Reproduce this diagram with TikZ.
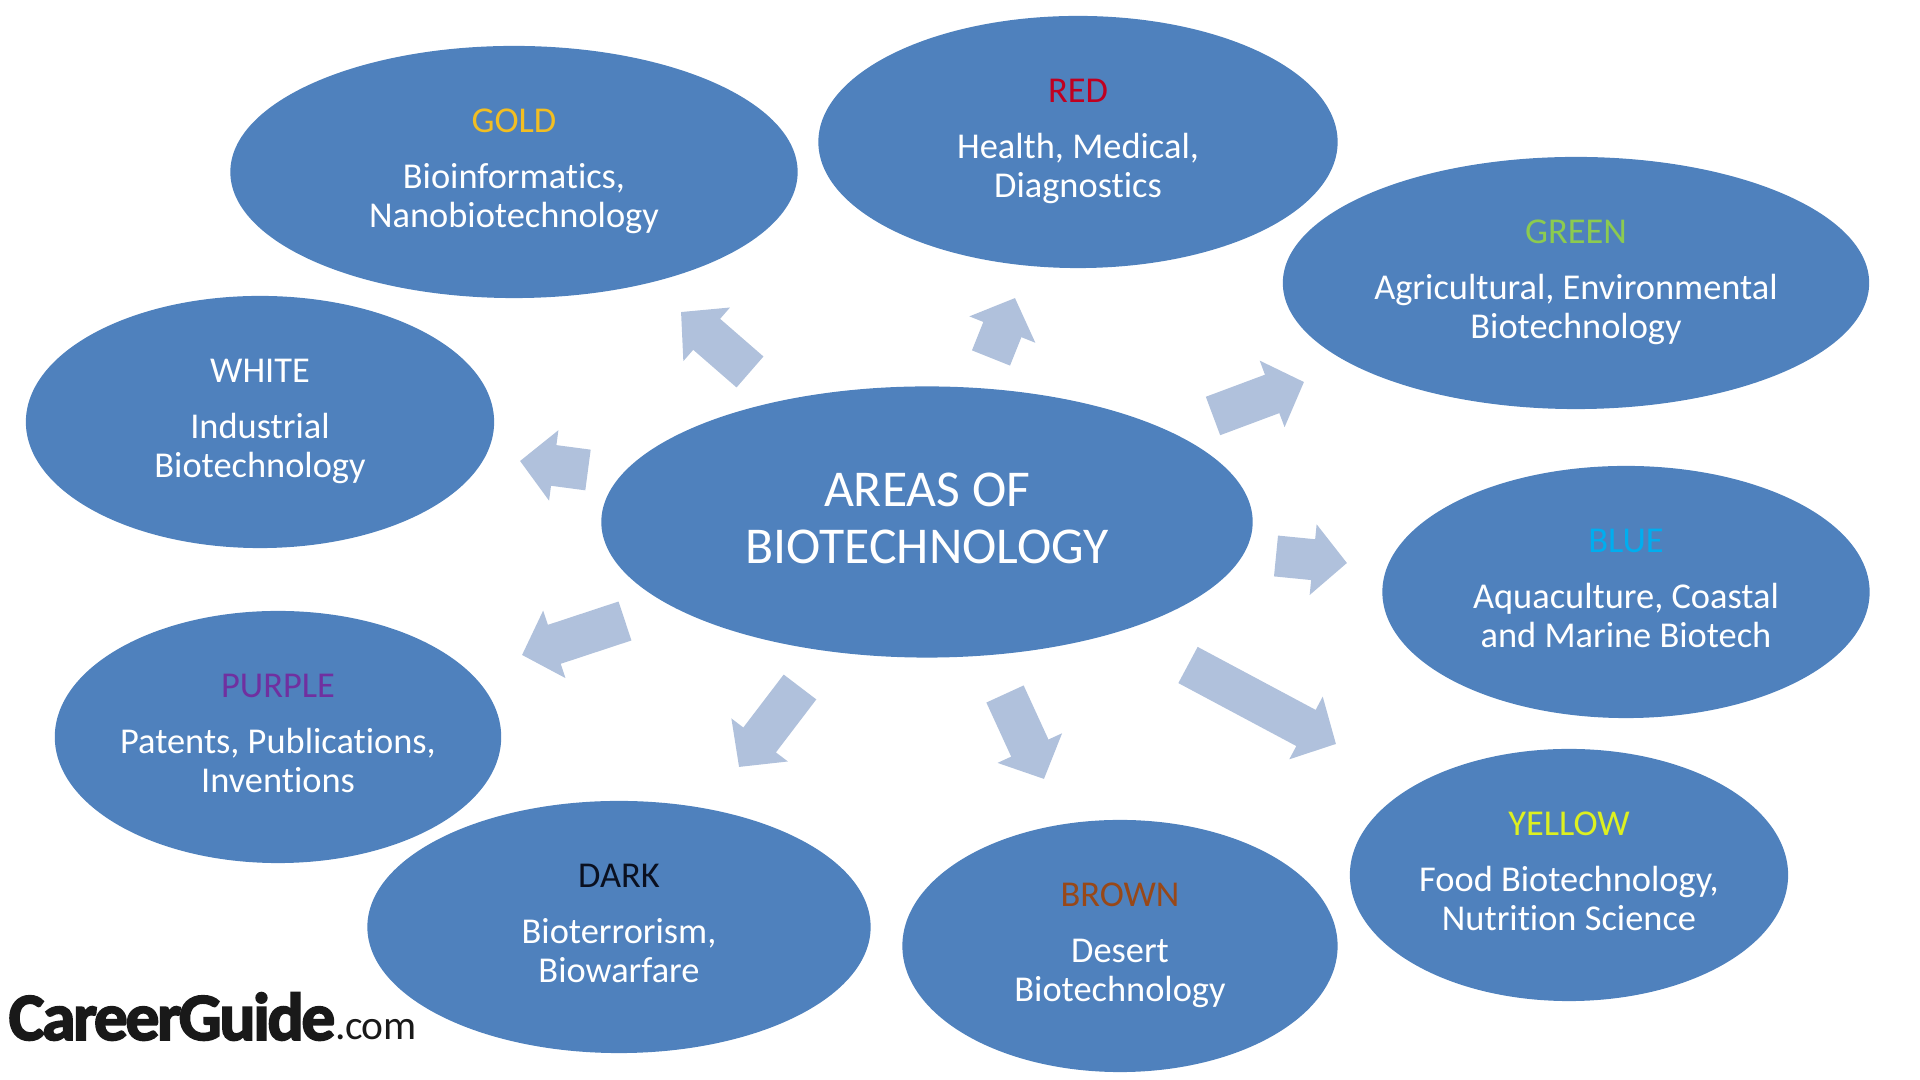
\documentclass[tikz,border=0pt]{standalone}
\usepackage{fontspec}
\setmainfont{Carlito}[Ligatures=NoCommon]
\newfontfamily\logofont[LetterSpace=-3.5,FakeBold=2.6]{Carlito Bold}
\newfontfamily\dotcomfont[LetterSpace=-1.5]{Carlito}
\usetikzlibrary{arrows.meta, shapes.geometric}
\definecolor{mBlob}{HTML}{4F81BD}
\definecolor{mArrow}{HTML}{B0C1DC}
\definecolor{mGold}{HTML}{F2BE22}
\definecolor{mRed}{HTML}{C00020}
\definecolor{mGreen}{HTML}{8CCB50}
\definecolor{mBlue}{HTML}{00AEEF}
\definecolor{mPurple}{HTML}{7030A0}
\definecolor{mDark}{HTML}{0A1020}
\definecolor{mBrown}{HTML}{984818}
\definecolor{mYellow}{HTML}{DDF020}
\newcommand{\arealabel}[3]{\textcolor{#1}{\strut #2}\\[1.8mm]#3\strut}

\begin{document}
\begin{tikzpicture}[x=0.01cm, y=-0.01cm,
    areablob/.style={ellipse, fill=mBlob, inner sep=0pt, minimum height=2.52cm, text=white, align=center, font=\fontsize{10.35}{11}\selectfont},
    flowarrow/.style={draw=mArrow, line width=0.41cm, -{Triangle[length=0.34cm, width=0.69cm]}}]
    \useasboundingbox (0,0) rectangle (1920,1080);
    % centre
    \node[areablob, minimum width=6.51cm, minimum height=2.71cm, font=\fontsize{14.7}{16.3}\selectfont] (centre) at (927,522) {AREAS OF\\BIOTECHNOLOGY\rule[-0.8mm]{0pt}{1mm}};
    % the nine areas
    \node[areablob, minimum width=5.67cm] (gold) at (514,172) {\arealabel{mGold}{GOLD}{Bioinformatics,\\Nanobiotechnology}};
    \node[areablob, minimum width=5.19cm] (red) at (1078,142) {\arealabel{mRed}{RED}{Health, Medical,\\Diagnostics}};
    \node[areablob, minimum width=5.86cm] (green) at (1576,283) {\arealabel{mGreen}{GREEN}{Agricultural, Environmental\\Biotechnology}};
    \node[areablob, minimum width=4.68cm] (white) at (260,422) {\arealabel{white}{WHITE}{Industrial\\Biotechnology}};
    \node[areablob, minimum width=4.87cm] (blue) at (1626,592) {\arealabel{mBlue}{BLUE}{Aquaculture, Coastal\\and Marine Biotech}};
    \node[areablob, minimum width=4.46cm] (purple) at (278,737) {\arealabel{mPurple}{PURPLE}{Patents, Publications,\\Inventions}};
    \node[areablob, minimum width=5.03cm] (dark) at (619,927) {\arealabel{mDark}{DARK}{Bioterrorism,\\Biowarfare}};
    \node[areablob, minimum width=4.35cm] (brown) at (1120,946) {\arealabel{mBrown}{BROWN}{Desert\\Biotechnology}};
    \node[areablob, minimum width=4.38cm] (yellow) at (1569,875) {\arealabel{mYellow}{YELLOW}{Food Biotechnology,\\Nutrition Science}};
    % arrows out of the centre
    \foreach \area/\ax/\ay/\bx/\by in {gold/750/372/681/312, red/991/358/1015/298, green/1213/416/1304/382, blue/1276/556/1347/563, yellow/1188/665/1336/744, brown/1005/694/1044/779, dark/800/687/739/767, purple/625/621/522/655, white/588/470/520/461} {
      \coordinate (\area tail) at (\ax,\ay);
      \coordinate (\area tip) at (\bx,\by);
      \draw[flowarrow] (\area tail) -- (\area tip);
    }
    \node[anchor=base west, inner sep=0pt, text=black!90] (logo) at (8,1040) {\fontsize{19.2}{20}\logofont CareerGuide\fontsize{11.8}{13}\dotcomfont .com};
  \end{tikzpicture}
\end{document}
